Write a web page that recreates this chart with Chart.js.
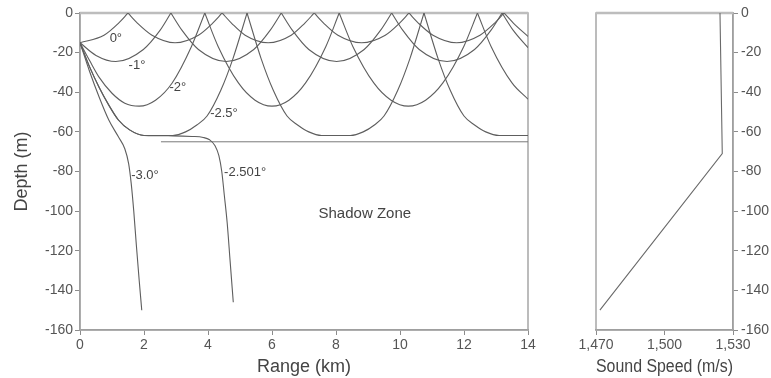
<!DOCTYPE html>
<html>
<head>
<meta charset="utf-8">
<script src="https://cdn.jsdelivr.net/npm/chart.js@4.4.1/dist/chart.umd.min.js"></script>
<style>
  body { margin: 0; background: #fff; }
  #wrap { position: relative; width: 771px; height: 378px; overflow: hidden; }
  #rays { position: absolute; left: 0; top: 0; }
  #speed { position: absolute; left: 545px; top: 0; }
</style>
</head>
<body>
<div id="wrap">
  <canvas id="rays" width="545" height="378"></canvas>
  <canvas id="speed" width="226" height="378"></canvas>
</div>
<script>

/* Ray paths: [range (km), depth (m)] */

var ray0 = [
  [0, -15], [0.75, -11.2], [1.2, -5.2], [1.5, 0],
  [1.8, -5.2], [2.25, -11.2], [2.97, -15], [3.7, -11.2], [4.14, -5.2], [4.44, 0],
  [4.74, -5.2], [5.16, -11.2], [5.88, -15], [6.6, -11.2], [7.02, -5.2], [7.32, 0],
  [7.62, -5.2], [8.06, -11.2], [8.8, -15], [9.54, -11.2], [9.98, -5.2], [10.28, 0],
  [10.58, -5.2], [11.03, -11.2], [11.77, -15], [12.5, -11.2], [12.95, -5.2], [13.25, 0],
  [13.55, -5.2], [14, -11.8]
];

var ray1 = [
  [0, -15], [0.5, -21.4], [1.12, -24.5], [1.98, -18.4], [2.5, -8.8], [2.84, 0],
  [3.19, -8.8], [3.7, -18.4], [4.57, -24.5], [5.43, -18.4], [5.94, -8.8], [6.29, 0],
  [6.64, -8.8], [7.15, -18.4], [8.02, -24.5], [8.88, -18.4], [9.39, -8.8], [9.74, 0],
  [10.09, -8.8], [10.6, -18.4], [11.47, -24.5], [12.33, -18.4], [12.84, -8.8], [13.19, 0],
  [13.54, -8.8], [14, -17.5]
];

var ray2 = [
  [0, -15], [0.3, -24], [0.6, -32.5], [1.0, -40.5], [1.4, -45.5], [1.85, -47], [2.36, -44], [2.88, -35.3], [3.48, -17], [3.9, 0],
  [4.32, -17], [4.95, -35.3], [5.47, -44], [6.0, -47], [6.53, -44], [7.05, -35.3], [7.68, -17], [8.1, 0],
  [8.53, -17], [9.18, -35.3], [9.72, -44], [10.26, -47], [10.8, -44], [11.34, -35.3], [11.99, -17], [12.42, 0],
  [12.85, -17], [13.5, -35.3], [14, -43.5]
];

var ray25 = [
  [0, -15], [0.3, -27.2], [0.6, -37.6], [0.9, -46.5], [1.2, -54], [1.55, -59], [2.0, -61.8], [2.9, -61.8], [3.3, -60], [3.65, -56.5], [3.97, -52], [4.4, -39], [4.78, -23], [5.22, 0],
  [5.66, -23], [6.04, -39], [6.47, -52], [6.8, -56.5], [7.15, -60], [7.55, -61.8], [8.45, -61.8], [8.85, -60], [9.2, -56.5], [9.5, -52], [9.93, -39], [10.31, -23], [10.75, 0],
  [11.19, -23], [11.57, -39], [12.0, -52], [12.33, -56.5], [12.68, -60], [13.1, -61.8], [14, -61.8]
];

var ray2501 = [
  [0, -15], [0.3, -27.2], [0.6, -37.6], [0.9, -46.5], [1.2, -54], [1.55, -59], [2.0, -61.8], [2.9, -62], [3.5, -62.3], [3.85, -62.8],
  [4.05, -64], [4.22, -67], [4.34, -72], [4.43, -80], [4.51, -92], [4.6, -106], [4.69, -125], [4.79, -146]
];

var ray3 = [
  [0, -15], [0.3, -29.5], [0.6, -42.5], [0.9, -54], [1.2, -62.5], [1.4, -68.5], [1.52, -76],
  [1.6, -86], [1.68, -100], [1.76, -117], [1.85, -135], [1.93, -150]
];

var layerBottom = [[2.53, -65], [14, -65]];

var rayLabels = ['0°', '-1°', '-2°', '-2.5°', '-3.0°', '-2.501°'];
var rayLabelAt = [[1.12, -13], [1.78, -26.3], [3.06, -37.4], [4.5, -50.5], [2.03, -81.8], [5.16, -80.3]];
var shadowLabelAt = [8.9, -101.5];

/* Sound speed profile */

var speedValues = [1524.3, 1525.3, 1471.7];
var speedDepths = [0, -71, -150];


var fontFamily = '"Liberation Sans", Arial, Helvetica, sans-serif';
var tickFont = { family: fontFamily, size: 14 };
var titleFont = { family: fontFamily, size: 18 };
var lineGrey = '#5e5e5e';
var axisGrey = '#8c8c8c';

function toPoints(list) {
	return list.map(function(p) { return { x: p[0], y: p[1] }; });
}

// cut a ray into one arc per surface bounce, so each reflection stays a sharp cusp
function splitAtSurface(ray) {
	var arcs = [];
	var current = [];
	ray.forEach(function(p, i) {
		current.push(p);
		if (p[1] === 0 && i > 0 && i < ray.length - 1) {
			arcs.push(current);
			current = [p];
		}
	});
	arcs.push(current);
	return arcs;
}

var framePlugin = {
	id: 'frame',
	beforeDatasetsDraw: function(chart) {
		var a = chart.chartArea;
		var ctx = chart.ctx;
		ctx.save();
		ctx.strokeStyle = '#a6a6a6';
		ctx.lineWidth = 1.5;
		ctx.strokeRect(a.left, a.top, a.right - a.left, a.bottom - a.top);
		ctx.strokeStyle = '#bdbdbd';
		ctx.lineWidth = 2.5;
		ctx.beginPath();
		ctx.moveTo(a.left, a.top);
		ctx.lineTo(a.right, a.top);
		ctx.stroke();
		ctx.restore();
	}
};

var labelPlugin = {
	id: 'rayLabels',
	afterDatasetsDraw: function(chart) {
		var ctx = chart.ctx;
		var xs = chart.scales.x;
		var ys = chart.scales.y;
		ctx.save();
		ctx.fillStyle = '#444';
		ctx.textAlign = 'center';
		ctx.textBaseline = 'middle';
		ctx.font = '13px ' + fontFamily;
		rayLabels.forEach(function(text, i) {
			ctx.fillText(text, xs.getPixelForValue(rayLabelAt[i][0]), ys.getPixelForValue(rayLabelAt[i][1]));
		});
		ctx.font = '15px ' + fontFamily;
		ctx.fillText('Shadow Zone', xs.getPixelForValue(shadowLabelAt[0]), ys.getPixelForValue(shadowLabelAt[1]));
		ctx.restore();
	}
};



/* Ray Chart */

var rayDatasets = [];

[ray0, ray1, ray2, ray25, ray2501, ray3].forEach(function(ray) {
	splitAtSurface(ray).forEach(function(arc) {
		rayDatasets.push({
			data: toPoints(arc),
			borderColor: lineGrey,
			borderWidth: 1.1,
			pointRadius: 0,
			cubicInterpolationMode: 'monotone'
		});
	});
});

rayDatasets.push({
	data: toPoints(layerBottom),
	borderColor: '#7a7a7a',
	borderWidth: 1,
	pointRadius: 0
});

var rayChart = new Chart(document.getElementById('rays'), {
	type: 'line',
	data: { datasets: rayDatasets },
	plugins: [framePlugin, labelPlugin],
	options: {
		responsive: false,
		animation: false,
		layout: { padding: { left: 0, right: 17, top: 13, bottom: 0 } },
		plugins: { legend: { display: false }, tooltip: { enabled: false } },
		scales: {
			x: {
				type: 'linear', min: 0, max: 14,
				ticks: { stepSize: 2, color: '#555', font: tickFont, padding: 2, maxRotation: 0 },
				grid: { drawOnChartArea: false, tickLength: 5, color: axisGrey },
				border: { color: axisGrey, width: 1.5 },
				title: { display: true, text: 'Range (km)', color: '#444', font: titleFont, padding: 0 },
				afterFit: function(scale) { scale.height = 48; }
			},
			y: {
				type: 'linear', min: -160, max: 0,
				ticks: { stepSize: 20, color: '#555', font: tickFont, padding: 2 },
				grid: { drawOnChartArea: false, tickLength: 5, color: axisGrey },
				border: { color: axisGrey, width: 1.5 },
				title: { display: true, text: 'Depth (m)', color: '#444', font: titleFont, padding: { top: 11 } },
				afterFit: function(scale) { scale.width = 80; }
			}
		}
	}
});



/* Sound Speed Chart */

var speedChart = new Chart(document.getElementById('speed'), {
	type: 'line',
	data: {
		datasets: [{
			data: speedValues.map(function(v, i) { return { x: v, y: speedDepths[i] }; }),
			borderColor: '#6a6a6a',
			borderWidth: 1.1,
			pointRadius: 0,
			tension: 0
		}]
	},
	plugins: [framePlugin],
	options: {
		responsive: false,
		animation: false,
		layout: { padding: { left: 51, right: 0, top: 13, bottom: 0 } },
		plugins: { legend: { display: false }, tooltip: { enabled: false } },
		scales: {
			x: {
				type: 'linear', min: 1470, max: 1530,
				ticks: {
					stepSize: 30, color: '#555', font: tickFont, padding: 2, maxRotation: 0,
					callback: function(v) { return v.toLocaleString('en-US'); }
				},
				grid: { drawOnChartArea: false, tickLength: 5, color: axisGrey },
				border: { color: axisGrey, width: 1.5 },
				title: { display: true, text: 'Sound Speed (m/s)', color: '#444', font: titleFont, padding: 0 },
				afterFit: function(scale) { scale.height = 48; }
			},
			y: {
				type: 'linear', position: 'right', min: -160, max: 0,
				ticks: { stepSize: 20, color: '#555', font: tickFont, padding: 3 },
				grid: { drawOnChartArea: false, tickLength: 5, color: axisGrey },
				border: { color: axisGrey, width: 1.5 },
				afterFit: function(scale) { scale.width = 38; }
			}
		}
	}
});

</script>
</body>
</html>
